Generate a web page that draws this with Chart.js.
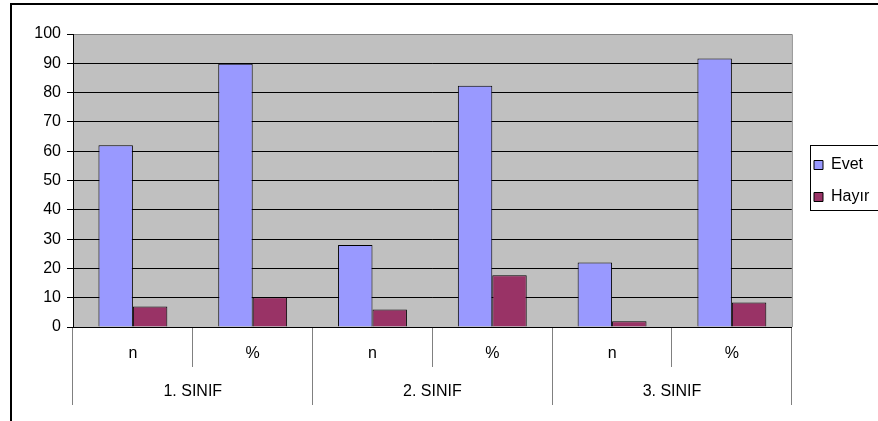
<!DOCTYPE html>
<html>
<head>
<meta charset="utf-8">
<script src="https://cdn.jsdelivr.net/npm/chart.js@4"></script>
<style>
  html, body { margin: 0; padding: 0; background: #fff; }
  #wrap { width: 878px; height: 421px; position: relative; }
</style>
</head>
<body>
<div id="wrap"><canvas id="chart"></canvas></div>
<script>
// data
const subLabels = ['n', '%', 'n', '%', 'n', '%'];
const groupLabels = ['1. SINIF', '2. SINIF', '3. SINIF'];
const evet = [62, 89.86, 28, 82.35, 22, 91.67];
const hayir = [7, 10.14, 6, 17.65, 2, 8.33];
const yTicks = [0, 10, 20, 30, 40, 50, 60, 70, 80, 90, 100];

const font = { family: "'Liberation Sans', Arial, sans-serif", size: 16 };

// gray plot background, frame round the whole chart, box round the legend
const decor = {
  id: 'decor',
  afterLayout(chart) {
    // move the legend (keeping its size) so it sits mid-plot like the original
    const lg = chart.legend;
    const shift = (lg.top + lg.bottom) / 2 - 181;
    lg.top -= shift;
    lg.bottom -= shift;
    const dx = 798 - lg.left;
    lg.left += dx;
    lg.right += dx;
  },
  beforeDraw(chart) {
    const { ctx, chartArea: a } = chart;
    ctx.save();
    ctx.fillStyle = '#c0c0c0';
    ctx.fillRect(a.left, a.top, a.right - a.left, a.bottom - a.top);
    ctx.strokeStyle = '#808080';
    ctx.lineWidth = 1;
    ctx.beginPath();
    ctx.moveTo(a.left, a.top + 0.5);
    ctx.lineTo(a.right + 0.5, a.top + 0.5);
    ctx.lineTo(a.right + 0.5, a.bottom);
    ctx.stroke();
    // outer frame
    ctx.strokeStyle = '#000';
    ctx.lineWidth = 2;
    ctx.beginPath();
    ctx.moveTo(11, 421);
    ctx.lineTo(11, 4);
    ctx.lineTo(878, 4);
    ctx.stroke();
    // legend box
    ctx.lineWidth = 1;
    ctx.strokeRect(810.5, 145.5, 80, 65);
    ctx.restore();
  }
};

new Chart(document.getElementById('chart'), {
  type: 'bar',
  data: {
    labels: subLabels,
    datasets: [{
      label: 'Evet',
      data: evet,
      backgroundColor: '#9999ff',
      borderColor: '#000',
      borderWidth: 1,
      categoryPercentage: 0.575,
      barPercentage: 1
    }, {
      label: 'Hayır',
      data: hayir,
      backgroundColor: '#993366',
      borderColor: '#000',
      borderWidth: 1,
      categoryPercentage: 0.575,
      barPercentage: 1
    }]
  },
  options: {
    responsive: true,
    maintainAspectRatio: false,
    animation: false,
    layout: { padding: { left: 12, top: 34, right: 5, bottom: 16 } },
    plugins: {
      legend: {
        position: 'right',
        labels: {
          boxWidth: 9,
          boxHeight: 9,
          padding: 16,
          color: '#000',
          font: font
        }
      },
      tooltip: { enabled: false }
    },
    scales: {
      y: {
        min: 0,
        max: 100,
        afterFit(s) { s.width = 61; },
        afterBuildTicks(s) { s.ticks = yTicks.map(v => ({ value: v })); },
        ticks: { color: '#000', font: font, padding: 6 },
        grid: {
          color: c => c.tick && c.tick.value === 100 ? '#808080' : '#000',
          tickColor: '#000',
          tickLength: 6
        },
        border: { color: '#000' }
      },
      x: {
        afterFit(s) { s.height = 40; },
        ticks: { color: '#000', font: font, padding: -23, maxRotation: 0 },
        grid: {
          offset: true,
          drawOnChartArea: false,
          color: '#808080',
          tickLength: 40
        },
        border: { color: '#000' }
      },
      x2: {
        type: 'category',
        position: 'bottom',
        labels: groupLabels,
        offset: true,
        afterFit(s) { s.height = 38; },
        ticks: { color: '#000', font: font, padding: -23, maxRotation: 0 },
        grid: {
          offset: true,
          drawOnChartArea: false,
          color: '#808080',
          tickLength: 38
        },
        border: { display: false }
      }
    }
  },
  plugins: [decor]
});
</script>
</body>
</html>
